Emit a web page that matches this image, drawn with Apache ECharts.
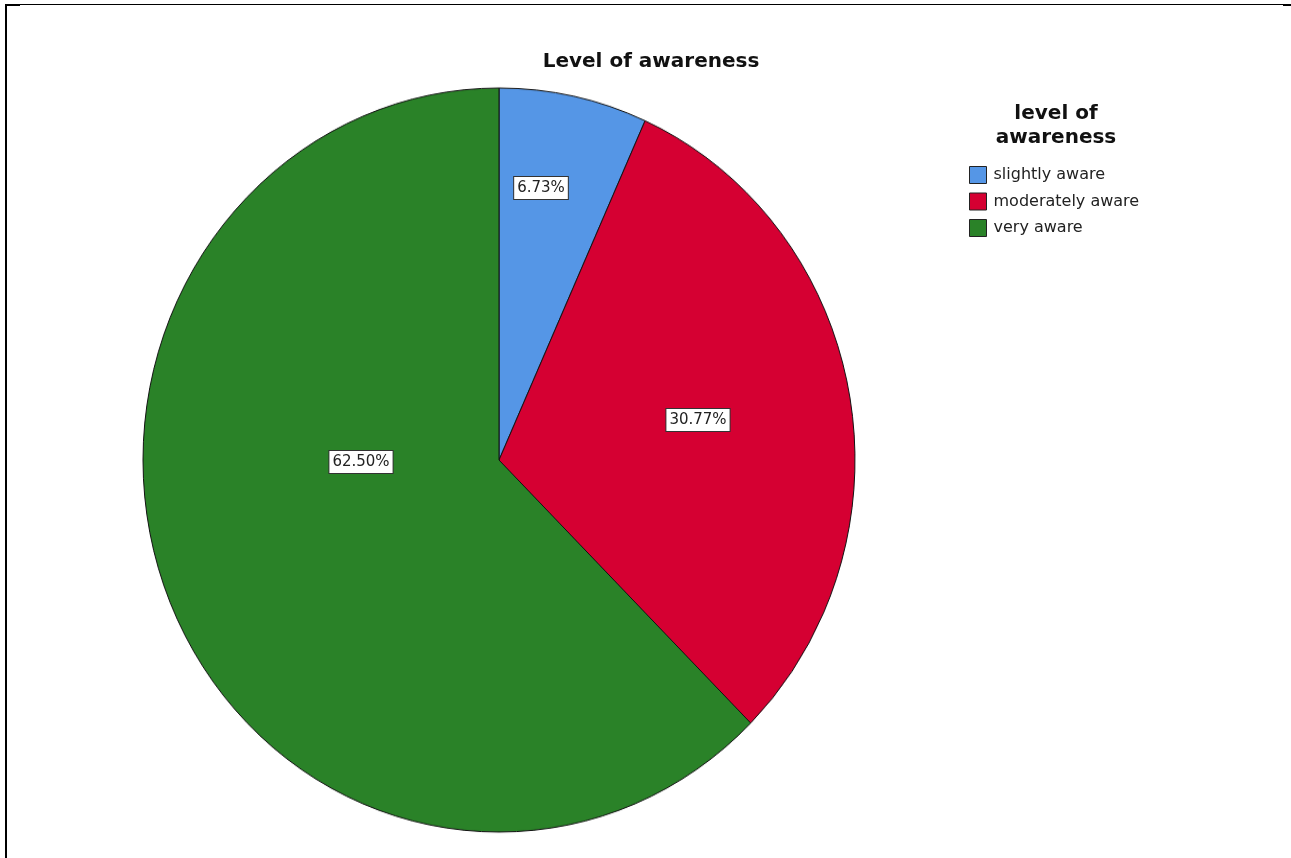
<!DOCTYPE html>
<html>
<head>
<meta charset="utf-8">
<script src="https://cdn.jsdelivr.net/npm/echarts@6/dist/echarts.min.js"></script>
<style>
html,body{margin:0;padding:0;background:#fff;}
.layer{position:absolute;left:0;top:0;width:1291px;height:858px;}
#pieLayer{transform-origin:499px 460px;transform:scaleY(1.045);}
</style>
</head>
<body>
<div id="pieLayer" class="layer"></div>
<div id="chart" class="layer"></div>
<script>
const categories = ['slightly aware', 'moderately aware', 'very aware'];
const percentages = [6.73, 30.77, 62.50];
const sliceColors = ['#5596E6', '#D50032', '#2A8228'];
const chartTitle = 'Level of awareness';
const legendTitle = 'level of\nawareness';

// label anchor positions (pixel centres of the boxed labels)
const labelAnchors = [[541, 188], [698, 420], [361, 462]];

const FONT = 'DejaVu Sans';
const pieData = categories.map((c, i) => ({name: c, value: percentages[i], itemStyle: {color: sliceColors[i]}}));

// Layer 1: the pie itself (stretched vertically by CSS into the reference's slight ellipse)
const pieChart = echarts.init(document.getElementById('pieLayer'), null, {renderer: 'canvas'});
pieChart.setOption({
  animation: false,
  series: [{
    type: 'pie',
    center: [499, 460],
    radius: 356,
    startAngle: 90,
    clockwise: true,
    silent: true,
    itemStyle: {borderColor: '#111', borderWidth: 1},
    label: {show: false},
    labelLine: {show: false},
    data: pieData
  }]
});

// Layer 2: titles, legend, frame and the boxed percentage labels
const chart = echarts.init(document.getElementById('chart'), null, {renderer: 'canvas'});
chart.setOption({
  animation: false,
  backgroundColor: 'transparent',
  title: [
    {
      text: chartTitle,
      left: 646, top: 47, textAlign: 'center',
      textStyle: {fontFamily: FONT, fontSize: 20, fontWeight: 'bold', color: '#111'}
    },
    {
      text: legendTitle,
      left: 1051, top: 97, textAlign: 'center',
      textStyle: {fontFamily: FONT, fontSize: 20, fontWeight: 'bold', color: '#111', lineHeight: 24}
    }
  ],
  legend: {
    orient: 'vertical',
    left: 964, top: 161,
    itemWidth: 17, itemHeight: 17, itemGap: 8.5,
    icon: 'rect',
    textStyle: {fontFamily: FONT, fontSize: 16, color: '#222', padding: [0, 0, 0, 2]},
    data: categories.map((c, i) => ({
      name: c,
      itemStyle: {color: sliceColors[i], borderColor: '#222', borderWidth: 1, opacity: 1}
    }))
  },
  graphic: [
    {type: 'rect', shape: {x: 5, y: 4, width: 1278, height: 1}, style: {fill: '#000'}, silent: true},
    {type: 'rect', shape: {x: 5, y: 4, width: 2, height: 854}, style: {fill: '#000'}, silent: true},
    {type: 'rect', shape: {x: 5, y: 4, width: 15, height: 2}, style: {fill: '#000'}, silent: true},
    {type: 'rect', shape: {x: 1283, y: 4, width: 8, height: 2}, style: {fill: '#000'}, silent: true}
  ],
  series: [{
    type: 'pie',
    center: [499, 460],
    radius: 356,
    startAngle: 90,
    clockwise: true,
    silent: true,
    avoidLabelOverlap: false,
    itemStyle: {color: 'rgba(0,0,0,0)', borderWidth: 0},
    label: {
      show: true,
      position: 'inside',
      formatter: p => p.value.toFixed(2) + '%',
      fontFamily: FONT, fontSize: 15, color: '#222',
      backgroundColor: '#fff', borderColor: '#333', borderWidth: 1,
      padding: [4, 3, 3, 3]
    },
    labelLine: {show: false},
    labelLayout: function (params) {
      const a = labelAnchors[params.dataIndex];
      return {x: a[0], y: a[1], align: 'center', verticalAlign: 'middle'};
    },
    emphasis: {disabled: true},
    data: categories.map((c, i) => ({name: c, value: percentages[i]}))
  }]
});
</script>
</body>
</html>
